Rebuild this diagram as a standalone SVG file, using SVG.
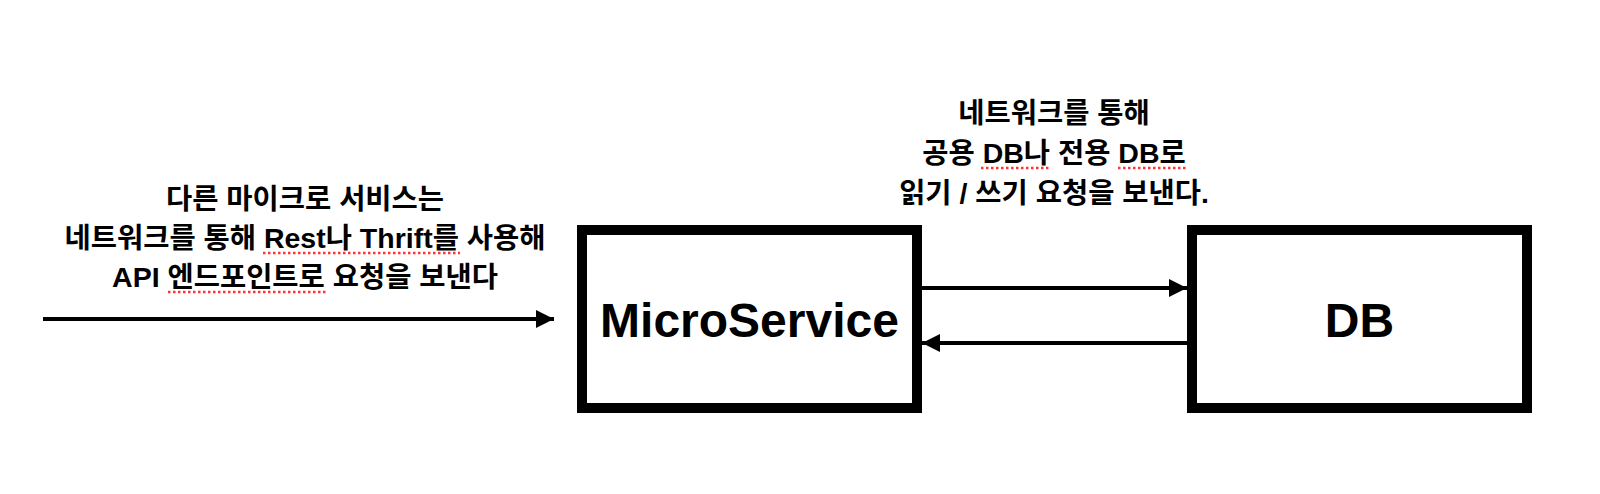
<svg xmlns="http://www.w3.org/2000/svg" width="1600" height="494" viewBox="0 0 1600 494">
  <defs>
    <marker id="arrow" markerUnits="userSpaceOnUse" markerWidth="18" markerHeight="18" refX="18" refY="9" orient="auto">
      <path d="M0,0 L18,9 L0,18 Z" fill="#000"/>
    </marker>
    <style>
      .box { fill: #fff; stroke: #000; stroke-width: 10; }
      .conn { stroke: #000; stroke-width: 4; fill: none; marker-end: url(#arrow); }
      .label { font-family: "Liberation Sans", "Noto Sans CJK KR", sans-serif; font-weight: bold; font-size: 28.5px; fill: #000; text-anchor: middle; }
      .title { font-family: "Liberation Sans", "Noto Sans CJK KR", sans-serif; font-weight: bold; font-size: 48px; fill: #000; text-anchor: middle; }
      .spell { stroke: #f33; stroke-width: 2.5; stroke-dasharray: 2.5 2.5; fill: none; }
    </style>
  </defs>
  <rect width="1600" height="494" fill="#fff"/>

  <g id="microservice">
    <rect class="box" x="582" y="230" width="335" height="178"/>
    <text class="title" x="749.5" y="337">MicroService</text>
  </g>

  <g id="db">
    <rect class="box" x="1192" y="230" width="335" height="178"/>
    <text class="title" x="1359.5" y="337">DB</text>
  </g>

  <g id="connectors">
    <line class="conn" x1="43" y1="319" x2="554" y2="319"/>
    <line class="conn" x1="922" y1="288" x2="1187" y2="288"/>
    <line class="conn" x1="1187" y1="343" x2="922" y2="343"/>
  </g>

  <g id="label-left">
    <text class="label" x="305" y="209">다른 마이크로 서비스는</text>
    <text class="label" x="305" y="248">네트워크를 통해 Rest나 Thrift를 사용해</text>
    <text class="label" x="305" y="287">API 엔드포인트로 요청을 보낸다</text>
    <line class="spell" x1="263" y1="253" x2="460" y2="253"/>
    <line class="spell" x1="168" y1="292" x2="326" y2="292"/>
  </g>

  <g id="label-right">
    <text class="label" x="1054" y="123">네트워크를 통해</text>
    <text class="label" x="1054" y="163">공용 DB나 전용 DB로</text>
    <text class="label" x="1054" y="203">읽기 / 쓰기 요청을 보낸다.</text>
    <line class="spell" x1="981" y1="168" x2="1050" y2="168"/>
    <line class="spell" x1="1118" y1="168" x2="1187" y2="168"/>
  </g>
</svg>
